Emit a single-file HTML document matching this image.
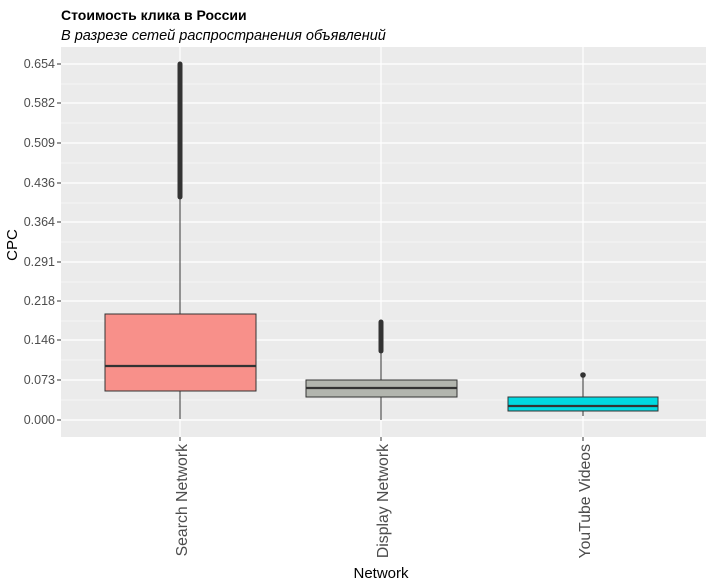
<!DOCTYPE html><html><head><meta charset="utf-8"><style>body{margin:0;background:#fff;}svg{display:block;font-family:"Liberation Sans",sans-serif;}</style></head><body>
<svg width="710" height="582" xmlns="http://www.w3.org/2000/svg">
<text x="61" y="20" font-size="14" font-weight="bold" fill="#000">Стоимость клика в России</text>
<text x="61" y="40" font-size="14.5" font-style="italic" fill="#000">В разрезе сетей распространения объявлений</text>
<rect x="61" y="47" width="645" height="390" fill="#ebebeb"/>
<g stroke="#fff" stroke-width="0.6">
<line x1="61" x2="706" y1="400" y2="400"/><line x1="61" x2="706" y1="360" y2="360"/><line x1="61" x2="706" y1="321" y2="321"/><line x1="61" x2="706" y1="282" y2="282"/><line x1="61" x2="706" y1="242" y2="242"/><line x1="61" x2="706" y1="203" y2="203"/><line x1="61" x2="706" y1="163" y2="163"/><line x1="61" x2="706" y1="123" y2="123"/><line x1="61" x2="706" y1="84" y2="84"/>
</g>
<g stroke="#fff" stroke-width="1.2">
<line x1="61" x2="706" y1="420" y2="420"/><line x1="61" x2="706" y1="380" y2="380"/><line x1="61" x2="706" y1="340" y2="340"/><line x1="61" x2="706" y1="301" y2="301"/><line x1="61" x2="706" y1="262" y2="262"/><line x1="61" x2="706" y1="222" y2="222"/><line x1="61" x2="706" y1="183" y2="183"/><line x1="61" x2="706" y1="143" y2="143"/><line x1="61" x2="706" y1="103" y2="103"/><line x1="61" x2="706" y1="64" y2="64"/>
<line x1="180" x2="180" y1="47" y2="437"/><line x1="381" x2="381" y1="47" y2="437"/><line x1="583" x2="583" y1="47" y2="437"/>
</g>
<g font-size="12.5" fill="#4d4d4d" text-anchor="end">
<text x="55" y="424">0.000</text><text x="55" y="384">0.073</text><text x="55" y="344">0.146</text><text x="55" y="305">0.218</text><text x="55" y="266">0.291</text><text x="55" y="226">0.364</text><text x="55" y="187">0.436</text><text x="55" y="147">0.509</text><text x="55" y="107">0.582</text><text x="55" y="68">0.654</text>
</g>
<g stroke="#333" stroke-width="1">
<line x1="57" x2="61" y1="420" y2="420"/><line x1="57" x2="61" y1="380" y2="380"/><line x1="57" x2="61" y1="340" y2="340"/><line x1="57" x2="61" y1="301" y2="301"/><line x1="57" x2="61" y1="262" y2="262"/><line x1="57" x2="61" y1="222" y2="222"/><line x1="57" x2="61" y1="183" y2="183"/><line x1="57" x2="61" y1="143" y2="143"/><line x1="57" x2="61" y1="103" y2="103"/><line x1="57" x2="61" y1="64" y2="64"/>
<line x1="180" x2="180" y1="437" y2="441"/><line x1="381" x2="381" y1="437" y2="441"/><line x1="583" x2="583" y1="437" y2="441"/>
</g>
<g stroke="#333">
<line x1="180" x2="180" y1="391" y2="419" stroke-width="1"/>
<line x1="180" x2="180" y1="314" y2="197" stroke-width="1"/>
<line x1="180" x2="180" y1="197" y2="64" stroke-width="5" stroke-linecap="round"/>
<rect x="105" y="314" width="151" height="77" fill="#f8908a" stroke-width="1"/>
<line x1="105" x2="256" y1="366" y2="366" stroke-width="2.2"/>
<line x1="381" x2="381" y1="397" y2="420" stroke-width="1"/>
<line x1="381" x2="381" y1="380" y2="351" stroke-width="1"/>
<line x1="381" x2="381" y1="351" y2="322" stroke-width="5" stroke-linecap="round"/>
<rect x="306" y="380" width="151" height="17" fill="#b2b5ae" stroke-width="1"/>
<line x1="306" x2="457" y1="388" y2="388" stroke-width="2.2"/>
<line x1="583" x2="583" y1="411" y2="416" stroke-width="1"/>
<line x1="583" x2="583" y1="397" y2="377" stroke-width="1"/>
<circle cx="583" cy="375" r="2.8" fill="#333" stroke="none"/>
<rect x="508" y="397" width="150" height="14" fill="#00d9e1" stroke-width="1"/>
<line x1="508" x2="658" y1="406" y2="406" stroke-width="2.2"/>
</g>
<g font-size="15.8" fill="#4d4d4d" text-anchor="end">
<text transform="translate(187,444) rotate(-90)">Search Network</text>
<text transform="translate(388,444) rotate(-90)">Display Network</text>
<text transform="translate(590,444) rotate(-90)">YouTube Videos</text>
</g>
<text x="381" y="578" font-size="15" text-anchor="middle" fill="#000">Network</text>
<text transform="translate(17,245) rotate(-90)" font-size="15" text-anchor="middle" fill="#000">CPC</text>
</svg></body></html>
